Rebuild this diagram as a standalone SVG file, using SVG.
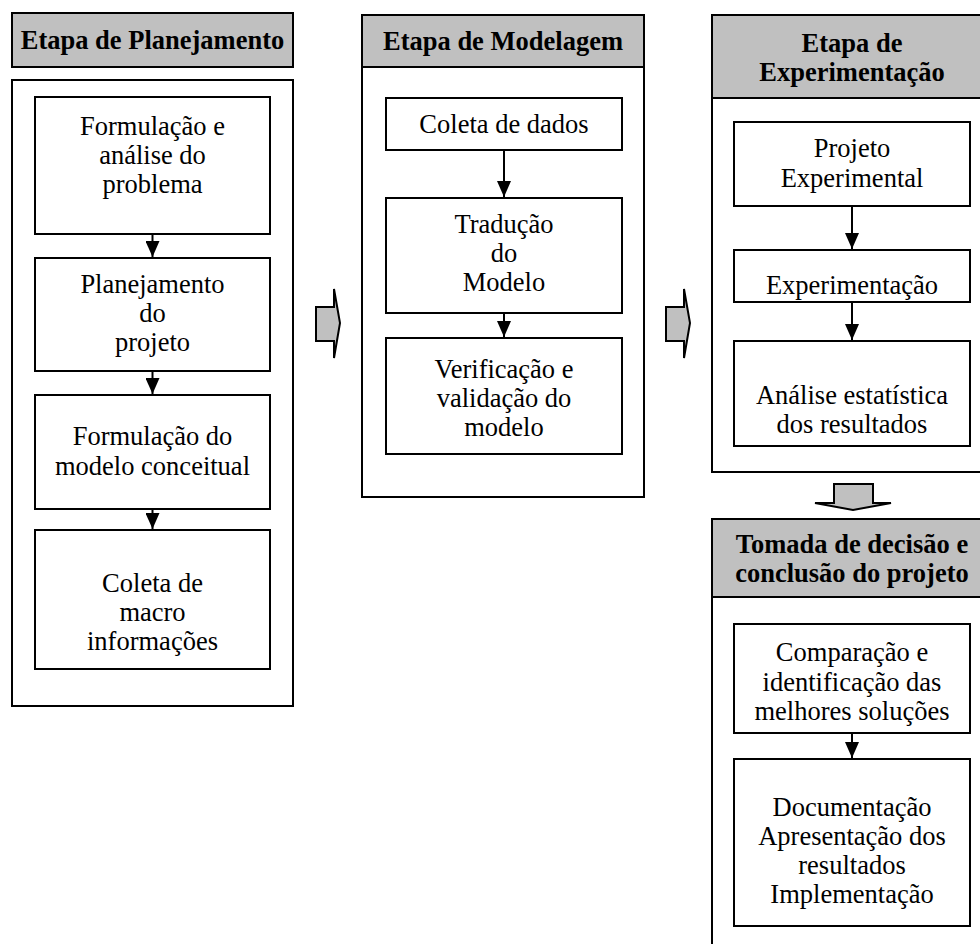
<svg xmlns="http://www.w3.org/2000/svg" width="980" height="944" viewBox="0 0 980 944">
<style>
.box{fill:#fff;stroke:#000;stroke-width:2}
.hdr{fill:#c0c0c0;stroke:#000;stroke-width:2}
.blk{fill:#c0c0c0;stroke:#000;stroke-width:2;stroke-linejoin:miter}
.t{font-family:"Liberation Serif","Times New Roman",serif;font-size:26.5px;fill:#000;text-anchor:middle}
.h{font-family:"Liberation Serif","Times New Roman",serif;font-size:26.5px;font-weight:bold;fill:#000;text-anchor:middle}
.c{stroke:#000;stroke-width:2;fill:none;marker-end:url(#ah)}
</style>
<defs>
<marker id="ah" markerWidth="16" markerHeight="14" refX="16" refY="7" orient="auto" markerUnits="userSpaceOnUse" viewBox="0 0 16 14">
<path d="M0,0 L16,7 L0,14 Z" fill="#000"/>
</marker>
</defs>
<rect width="980" height="944" fill="#fff"/>

<g id="planejamento">
<rect class="hdr" x="12" y="13" width="281" height="54"/>
<text class="h" x="152.5" y="49">Etapa de Planejamento</text>
<rect class="box" x="12" y="80" width="281" height="626"/>
</g>
<g id="p1"><rect class="box" x="35" y="97" width="235" height="137"/>
<text class="t" x="152.5" y="135">Formulação e</text><text class="t" x="152.5" y="164">análise do</text><text class="t" x="152.5" y="193">problema</text></g>
<g id="p2"><rect class="box" x="35" y="258" width="235" height="113"/>
<text class="t" x="152.5" y="293">Planejamento</text><text class="t" x="152.5" y="322">do</text><text class="t" x="152.5" y="351">projeto</text></g>
<g id="p3"><rect class="box" x="35" y="395" width="235" height="114"/>
<text class="t" x="152.5" y="445">Formulação do</text><text class="t" x="152.5" y="475">modelo conceitual</text></g>
<g id="p4"><rect class="box" x="35" y="530" width="235" height="139"/>
<text class="t" x="152.5" y="592">Coleta de</text><text class="t" x="152.5" y="621">macro</text><text class="t" x="152.5" y="650">informações</text></g>

<g id="modelagem">
<rect class="box" x="362" y="15" width="282" height="482"/>
<rect class="hdr" x="362" y="15" width="282" height="52"/>
<text class="h" x="503" y="50">Etapa de Modelagem</text>
</g>
<g id="m1"><rect class="box" x="386" y="98" width="236" height="52"/>
<text class="t" x="504" y="133">Coleta de dados</text></g>
<g id="m2"><rect class="box" x="386" y="198" width="236" height="115"/>
<text class="t" x="504" y="233">Tradução</text><text class="t" x="504" y="262">do</text><text class="t" x="504" y="291">Modelo</text></g>
<g id="m3"><rect class="box" x="386" y="338" width="236" height="116"/>
<text class="t" x="504" y="378">Verificação e</text><text class="t" x="504" y="407">validação do</text><text class="t" x="504" y="436">modelo</text></g>

<g id="experimentacao">
<rect class="box" x="712" y="15" width="290" height="457"/>
<rect class="hdr" x="712" y="15" width="290" height="83"/>
<text class="h" x="852" y="52">Etapa de</text>
<text class="h" x="852" y="81">Experimentação</text>
</g>
<g id="e1"><rect class="box" x="734" y="122" width="236" height="84"/>
<text class="t" x="852" y="157">Projeto</text><text class="t" x="852" y="187">Experimental</text></g>
<g id="e2"><rect class="box" x="734" y="250" width="236" height="52"/>
<text class="t" x="852" y="294">Experimentação</text></g>
<g id="e3"><rect class="box" x="734" y="341" width="236" height="105"/>
<text class="t" x="852" y="404">Análise estatística</text><text class="t" x="852" y="433">dos resultados</text></g>

<g id="decisao">
<rect class="box" x="712" y="519" width="290" height="440"/>
<rect class="hdr" x="712" y="519" width="290" height="78"/>
<text class="h" x="852" y="553">Tomada de decisão e</text>
<text class="h" x="852" y="582">conclusão do projeto</text>
</g>
<g id="d1"><rect class="box" x="734" y="624" width="236" height="109"/>
<text class="t" x="852" y="661">Comparação e</text><text class="t" x="852" y="691">identificação das</text><text class="t" x="852" y="720">melhores soluções</text></g>
<g id="d2"><rect class="box" x="734" y="759" width="236" height="167"/>
<text class="t" x="852" y="816">Documentação</text><text class="t" x="852" y="845">Apresentação dos</text><text class="t" x="852" y="874">resultados</text><text class="t" x="852" y="903">Implementação</text></g>

<g id="connectors">
<path class="c" d="M152.5,234 V257"/>
<path class="c" d="M152.5,371 V394"/>
<path class="c" d="M152.5,509 V529"/>
<path class="c" d="M504,150 V197"/>
<path class="c" d="M504,313 V337"/>
<path class="c" d="M852,206 V249"/>
<path class="c" d="M852,302 V340"/>
<path class="c" d="M852,733 V758"/>
<path class="blk" d="M316,307 H334 V289 L340,323 L334,358 V341 H316 Z"/>
<path class="blk" d="M666,307 H684 V289 L690,323 L684,358 V341 H666 Z"/>
<path class="blk" d="M834,484 H873 V503 H891 L853,510 L815,503 H834 Z"/>
</g>
</svg>
